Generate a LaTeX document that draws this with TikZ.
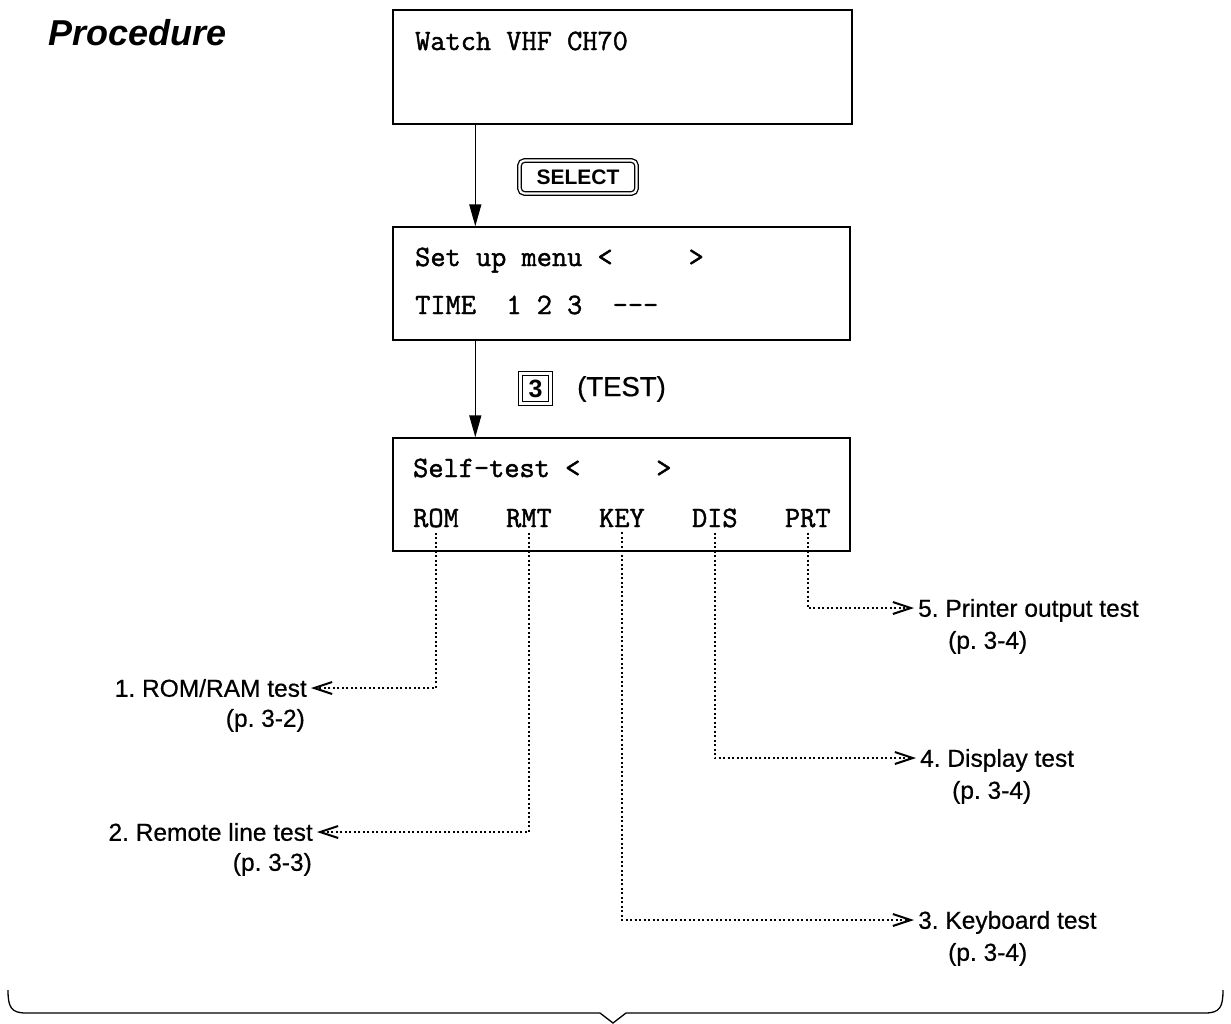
\documentclass[tikz,border=0pt]{standalone}
\usepackage{fontspec}
\setmainfont{Liberation Sans}
\newfontfamily\monob{Latin Modern Mono}[FakeBold=1.5]
\newfontfamily\lblfont{Liberation Sans}[FakeBold=0.6]
\usetikzlibrary{arrows.meta}
\begin{document}
\frenchspacing
\begin{tikzpicture}[x=1pt,y=-1pt,
  scr/.style={draw, line width=1.4pt, inner sep=0pt},
  mono/.style={font=\monob\fontsize{29.5}{30}\selectfont, inner sep=0pt, anchor=base west},
  key/.style={font=\fontsize{21}{22}\selectfont\bfseries, line width=1.3pt},
  lbl/.style={font=\lblfont\fontsize{24.5}{25}\selectfont, inner sep=4pt, text height=17.5pt, text depth=0pt},
  pg/.style={font=\lblfont\fontsize{24.5}{25}\selectfont, inner sep=0pt, text height=17.5pt, text depth=0pt},
  solidarr/.style={line width=1.4pt, -{Triangle[length=22pt,width=12pt]}},
  dotarr/.style={line width=1.6pt, dash pattern=on 2pt off 2.5pt, -{Straight Barb[length=18pt,width=12pt,line width=2pt]}},
]
\useasboundingbox (0,0) rectangle (1231,1023);

% heading
\node[anchor=base west, inner sep=0pt, font=\fontsize{36}{38}\selectfont\bfseries\itshape] (head) at (48,45) {Procedure};

% screens
\node[scr, minimum width=459pt, minimum height=114pt] (b1) at (622.5,67) {};
\node[scr, minimum width=457pt, minimum height=113pt] (b2) at (621.5,283.5) {};
\node[scr, minimum width=457pt, minimum height=113pt] (b3) at (621.5,494.5) {};

\node[mono] (t1) at (415,50) {Watch~VHF~CH70};
\node[mono] (t2) at (415,266) {Set~up~menu~<~~~~~>};
\node[mono] (t3) at (415,314) {TIME~~1~2~3~~---};
\node[mono] (t4) at (413,477) {Self-test~<~~~~~>};

\node[mono] (rom) at (413,527) {ROM};
\node[mono] (rmt) at (505.9,527) {RMT};
\node[mono] (kyy) at (598.9,527) {KEY};
\node[mono] (dis) at (691.8,527) {DIS};
\node[mono] (prt) at (784.8,527) {PRT};

% keys
\node[key, draw, double, double distance=2.2pt, rounded corners=5pt, minimum width=117pt, minimum height=33pt, inner sep=0pt] (sel) at (578,177) {SELECT};
\node[key, draw, double, double distance=2.2pt, minimum width=30pt, minimum height=30pt, inner sep=0pt, font=\fontsize{25}{26}\selectfont\bfseries] (k3) at (535.5,388.5) {3};
\node[anchor=west, inner sep=0pt, font=\lblfont\fontsize{27.5}{28}\selectfont] (test) at (577,389) {(TEST)};

% solid arrows
\draw[solidarr] ([xshift=83pt]b1.south west) -- ([xshift=83pt]b2.north west);
\draw[solidarr] ([xshift=83pt]b2.south west) -- ([xshift=83pt]b3.north west);

% labels
\node[lbl, anchor=east] (l1) at (311,688) {1. ROM/RAM test};
\node[pg, anchor=east] (p1) at (305,718) {(p. 3-2)};
\node[lbl, anchor=east] (l2) at (317,832) {2. Remote line test};
\node[pg, anchor=east] (p2) at (312,862) {(p. 3-3)};
\node[lbl, anchor=west] (l3) at (914,920) {3. Keyboard test};
\node[pg, anchor=west] (p3) at (948,952) {(p. 3-4)};
\node[lbl, anchor=west] (l4) at (916,758) {4. Display test};
\node[pg, anchor=west] (p4) at (952,790) {(p. 3-4)};
\node[lbl, anchor=west] (l5) at (914,608) {5. Printer output test};
\node[pg, anchor=west] (p5) at (948,640) {(p. 3-4)};

% dotted connectors
\draw[dotarr] ([yshift=-5pt]rom.south) |- (l1.east);
\draw[dotarr] ([yshift=-5pt]rmt.south) |- (l2.east);
\draw[dotarr] ([yshift=-5pt]kyy.south) |- (l3.west);
\draw[dotarr] ([yshift=-5pt]dis.south) |- (l4.west);
\draw[dotarr] ([yshift=-5pt]prt.south) |- (l5.west);

% bottom brace
\draw[line width=1.3pt] (8,990) .. controls (8,1007) and (11,1013) .. (26,1013) -- (600,1013) -- (613,1023) -- (626,1013) -- (1205,1013) .. controls (1220,1013) and (1223,1007) .. (1223,990);
\end{tikzpicture}
\end{document}
